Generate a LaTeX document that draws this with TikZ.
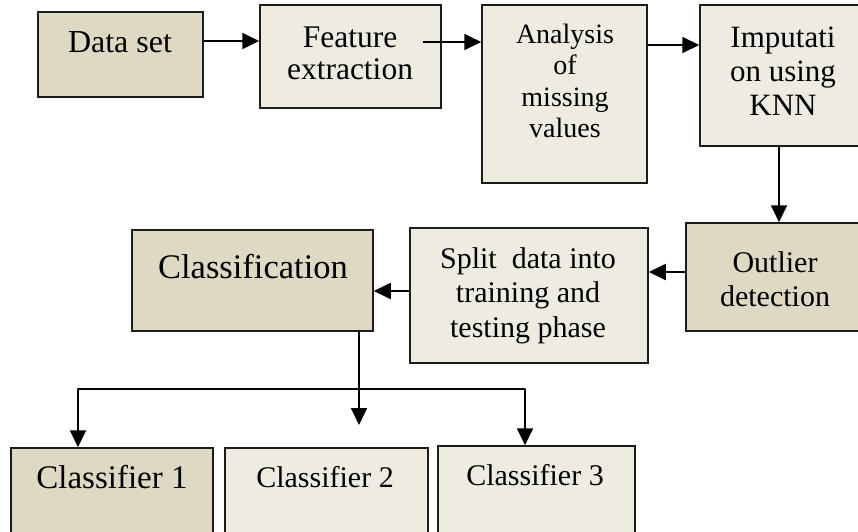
\documentclass[tikz,border=0pt]{standalone}
\usepackage{fontspec}
\setmainfont{Liberation Serif}
\usetikzlibrary{arrows.meta}
\definecolor{tandark}{RGB}{221,217,195}
\definecolor{tanlight}{RGB}{238,236,225}
\definecolor{edge}{RGB}{28,28,28}

\begin{document}
\begin{tikzpicture}[x=1pt,y=-1pt,
  box/.style={draw=edge, line width=1.5pt, rectangle, inner sep=0pt},
  darkbox/.style={box, fill=tandark},
  lightbox/.style={box, fill=tanlight},
  lbl/.style={inner sep=0pt, align=center, text=black},
  arr/.style={line width=1.8pt, draw=black, -{Triangle[length=17pt,width=16pt]}},
  conn/.style={line width=1.8pt, draw=black, line join=round}
]
\useasboundingbox (0,0) rectangle (858,531);
\clip (0,0) rectangle (858,531);

% --- boxes ---
\node[darkbox,  minimum width=165pt, minimum height=85pt]  (ds) at (120.5,54.5) {};
\node[lightbox, minimum width=181pt, minimum height=103pt] (fe) at (350.5,56.5) {};
\node[lightbox, minimum width=165pt, minimum height=178pt] (an) at (564.5,94) {};
\node[lightbox, minimum width=166pt, minimum height=141pt] (im) at (783,75.5) {};
\node[darkbox,  minimum width=180pt, minimum height=108pt] (ou) at (776,277) {};
\node[lightbox, minimum width=238pt, minimum height=135pt] (sp) at (529,295.5) {};
\node[darkbox,  minimum width=241pt, minimum height=101pt] (cl) at (252.5,280.5) {};
\node[darkbox,  minimum width=202pt, minimum height=112pt] (c1) at (112,504) {};
\node[lightbox, minimum width=203pt, minimum height=112pt] (c2) at (326.5,504) {};
\node[lightbox, minimum width=197pt, minimum height=114pt] (c3) at (536.5,503) {};

% --- labels ---
\node[lbl, anchor=base, font=\fontsize{32}{36}\selectfont] (ds-t) at (120,52) {Data set};
\node[lbl, anchor=north, font=\fontsize{31.5}{32}\selectfont] (fe-t) at (350,24.6)
  {\strut Feature\\\strut extraction};
\node[lbl, anchor=north, font=\fontsize{28}{31.5}\selectfont] (an-t) at (565,20.95)
  {\strut Analysis\\\strut of\\\strut missing\\\strut values};
\node[lbl, anchor=north, font=\fontsize{31}{34}\selectfont] (im-t) at (783,23.2)
  {\strut Imputati\\\strut on using\\\strut KNN};
\node[lbl, anchor=north, font=\fontsize{30}{34}\selectfont] (ou-t) at (775,248.2)
  {\strut Outlier\\\strut detection};
\node[lbl, anchor=north, font=\fontsize{30}{34.5}\selectfont] (sp-t) at (528,243.85)
  {\strut Split \ data into\\\strut training and\\\strut testing phase};
\node[lbl, anchor=base, font=\fontsize{34.5}{38}\selectfont] (cl-t) at (253,278) {Classification};
\node[lbl, anchor=base, font=\fontsize{33}{36}\selectfont] (c1-t) at (112,488) {Classifier 1};
\node[lbl, anchor=base, font=\fontsize{30}{34}\selectfont] (c2-t) at (325,487) {Classifier 2};
\node[lbl, anchor=base, font=\fontsize{30}{34}\selectfont] (c3-t) at (535,485) {Classifier 3};

% --- connectors ---
\coordinate (fe-out) at (423,42);
\coordinate (cl-down) at (359,425);
\coordinate (busL) at (78,389);
\coordinate (busR) at (525,389);

\draw[arr] (ds.east |- 0,41) -- (fe.west |- 0,41);
\draw[arr] (fe-out) -- (an.west |- fe-out);
\draw[arr] (an.east |- 0,45) -- (im.west |- 0,45);
\draw[arr] (im.south -| 779,0) -- (ou.north -| 779,0);
\draw[arr] (ou.west |- 0,272) -- (sp.east |- 0,272);
\draw[arr] (sp.west |- 0,291) -- (cl.east |- 0,291);
\draw[arr] (cl.south -| cl-down) -- (cl-down);
\draw[conn, {Triangle[length=17pt,width=16pt]}-{Triangle[length=17pt,width=16pt]}]
  (busL |- c1.north) -- (busL) -- (busR) -- (busR |- c3.north);
\end{tikzpicture}
\end{document}
